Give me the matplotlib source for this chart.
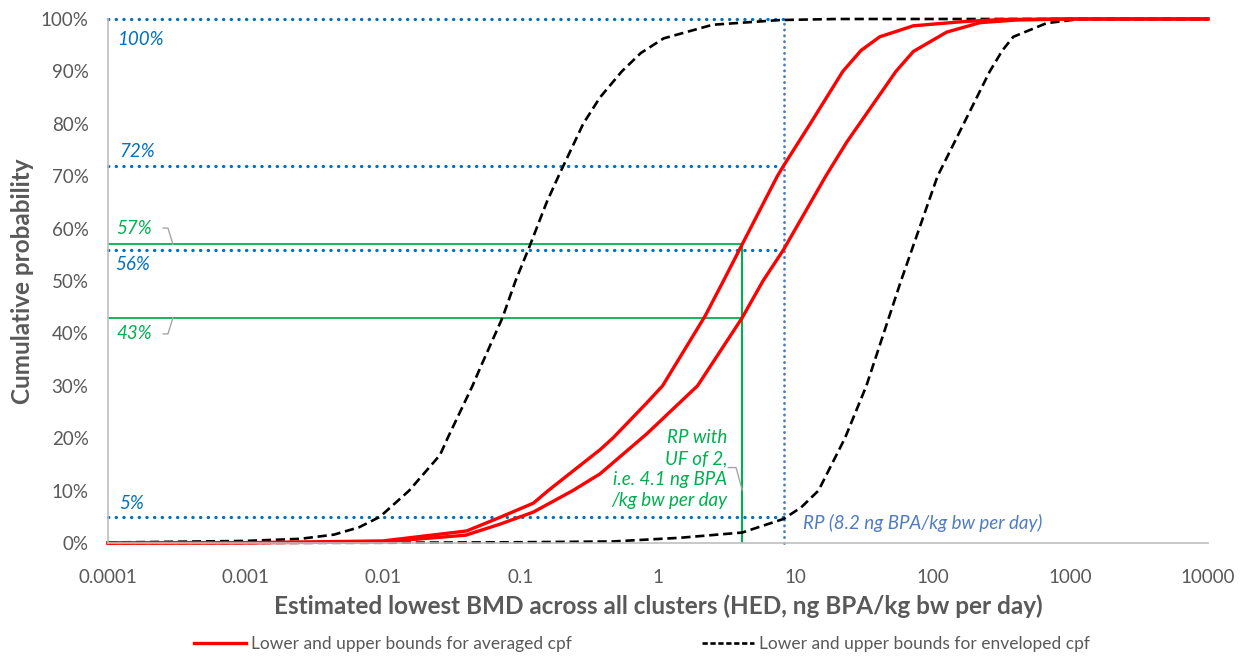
import matplotlib.pyplot as plt
from matplotlib.lines import Line2D
from matplotlib.ticker import FixedLocator, FixedFormatter

plt.rcParams['font.family'] = ['Lato', 'DejaVu Sans']

# Curves: BMD (ng BPA/kg bw per day) vs cumulative probability (%)
avg_lo_x = [0.0001, 0.001, 0.01, 0.0406, 0.071, 0.124, 0.159, 0.217, 0.379, 0.473, 0.826,
            1.08, 1.45, 2.2, 2.99, 4.1, 7.38, 8.2, 12.8, 22.1, 30, 41, 72, 166, 316, 1000, 10000]
avg_lo_p = [0, 0.05, 0.4, 2.3, 4.9, 7.6, 10, 12.8, 17.8, 20.1, 26.7,
            30, 35.5, 43.3, 50, 57, 70, 72, 80, 90, 94, 96.6, 98.7, 99.5, 99.9, 100, 100]

avg_hi_x = [0.0001, 0.001, 0.01, 0.04, 0.071, 0.124, 0.24, 0.379, 0.826, 1.94, 4.1, 5.8,
            8.2, 16.6, 23.6, 53.8, 72, 126, 220, 400, 1000, 10000]
avg_hi_p = [0, 0.05, 0.2, 1.5, 3.6, 5.9, 10, 13.2, 20.8, 30, 43, 50,
            56, 70, 76.5, 90, 93.8, 97.5, 99.3, 99.8, 100, 100]

env_lo_x = [0.0001, 0.001, 0.0025, 0.0044, 0.0067, 0.0095, 0.0155, 0.026, 0.0295, 0.0448,
            0.0507, 0.074, 0.092, 0.116, 0.155, 0.189, 0.286, 0.378, 0.546, 0.75, 1.1, 2.5,
            7.7, 20, 10000]
env_lo_p = [0.1, 0.4, 0.8, 1.6, 3.0, 5, 10, 16.8, 20, 30,
            33.3, 43, 50, 56.5, 65, 70, 80, 85, 90, 93.5, 96.3, 98.9,
            99.8, 100, 100]

env_hi_x = [0.0001, 0.01, 0.1, 0.47, 1.45, 4.1, 8.2, 11, 14.7, 22.9, 32.8, 58.5, 108, 259,
            320, 384, 670, 1175, 10000]
env_hi_p = [0, 0.05, 0.15, 0.3, 1.0, 2.0, 4.6, 6.8, 10, 20, 30, 50, 70, 90,
            94, 96.6, 99.2, 100, 100]

x_ticks = [0.0001, 0.001, 0.01, 0.1, 1, 10, 100, 1000, 10000]
x_tick_labels = ['0.0001', '0.001', '0.01', '0.1', '1', '10', '100', '1000', '10000']
y_ticks = list(range(0, 101, 10))

rp = 8.2
rp_uf = 4.1
rp_levels = [100, 72, 56, 5]
uf_levels = [57, 43]

grey = '#595959'
blue = '#0070C0'
blue_v = '#4A7CC4'
green = '#00B050'

fig = plt.figure(figsize=(12.44, 6.64), dpi=100)
ax = fig.add_axes([0.0868, 0.1822, 0.8842, 0.7892])

# reference point guides
dot = dict(color=blue, lw=2.3, linestyle=(0, (0.1, 2.3)), dash_capstyle='round', clip_on=False)
for lv in rp_levels:
    ax.plot([0.0001, rp], [lv, lv], **dot)
ax.plot([rp, rp], [0, 100], color=blue_v, lw=2.0, linestyle=(0, (0.1, 2.0)),
        dash_capstyle='round', clip_on=False)

for lv in uf_levels:
    ax.plot([0.0001, rp_uf], [lv, lv], color=green, lw=1.3)
ax.plot([rp_uf, rp_uf], [0, uf_levels[0]], color=green, lw=1.5)

# curves
ax.plot(env_lo_x, env_lo_p, color='black', lw=1.9, linestyle=(0, (3.5, 1.8)), clip_on=False)
ax.plot(env_hi_x, env_hi_p, color='black', lw=1.9, linestyle=(0, (3.5, 1.8)), clip_on=False)
ax.plot(avg_lo_x, avg_lo_p, color='#FF0000', lw=2.4, clip_on=False)
ax.plot(avg_hi_x, avg_hi_p, color='#FF0000', lw=2.4, clip_on=False)

# value labels
lab = dict(fontsize=13.5, style='italic', va='center', ha='left')
ax.text(0.000117, 96.0, '100%', color=blue, **lab)
ax.text(0.000121, 74.8, '72%', color=blue, **lab)
ax.text(0.000115, 60.1, '57%', color=green, **lab)
ax.text(0.000113, 53.1, '56%', color=blue, **lab)
ax.text(0.000115, 39.9, '43%', color=green, **lab)
ax.text(0.000121, 7.6, '5%', color=blue, **lab)

lead = dict(color='#A6A6A6', lw=1.0)
ax.plot([0.000252, 0.000273, 0.000297], [60.1, 60.1, 57], **lead)
ax.plot([0.000252, 0.000273, 0.000297], [39.9, 39.9, 43], **lead)

ax.text(3.18, 14.1, 'RP with\nUF of 2,\ni.e. 4.1 ng BPA\n/kg bw per day', color=green,
        fontsize=13.5, style='italic', ha='right', va='center', ma='right', linespacing=1.3)
ax.plot([3.25, 3.7, 4.1], [14.4, 14.4, 10.1], **lead)

ax.text(11.35, 3.8, 'RP (8.2 ng BPA/kg bw per day)', color='#4F7CC4', fontsize=13.5,
        style='italic', ha='left', va='center')

# axes
ax.set_xscale('log')
ax.set_xlim(0.0001, 10000)
ax.set_ylim(0, 100)
ax.xaxis.set_major_locator(FixedLocator(x_ticks))
ax.xaxis.set_major_formatter(FixedFormatter(x_tick_labels))
ax.xaxis.set_minor_locator(FixedLocator([]))
ax.set_yticks(y_ticks)
ax.set_yticklabels([f'{v}%' for v in y_ticks])
ax.tick_params(axis='both', length=0, labelsize=13.5, labelcolor=grey)
ax.tick_params(axis='x', pad=19)
ax.tick_params(axis='y', pad=14)
for s in ['top', 'right']:
    ax.spines[s].set_visible(False)
ax.spines['left'].set_color('#BFBFBF')
ax.spines['bottom'].set_color('#BFBFBF')
ax.spines['left'].set_linewidth(1.2)
ax.spines['bottom'].set_linewidth(1.2)

ax.set_xlabel('Estimated lowest BMD across all clusters (HED, ng BPA/kg bw per day)',
              fontsize=17.5, fontweight='bold', color=grey, labelpad=6)
ax.set_ylabel('Cumulative probability', fontsize=17.5, fontweight='bold', color=grey, labelpad=5)

handles = [Line2D([], [], color='#FF0000', lw=2.4),
           Line2D([], [], color='black', lw=1.9, linestyle=(0, (2.0, 1.0)))]
fig.legend(handles, ['Lower and upper bounds for averaged cpf',
                     'Lower and upper bounds for enveloped cpf'],
           loc='lower center', bbox_to_anchor=(0.516, -0.005), ncol=2, frameon=False,
           fontsize=12.5, handlelength=3.0, handletextpad=0.3, columnspacing=7.5,
           labelcolor=grey)

fig.savefig('out.png', dpi=100)
